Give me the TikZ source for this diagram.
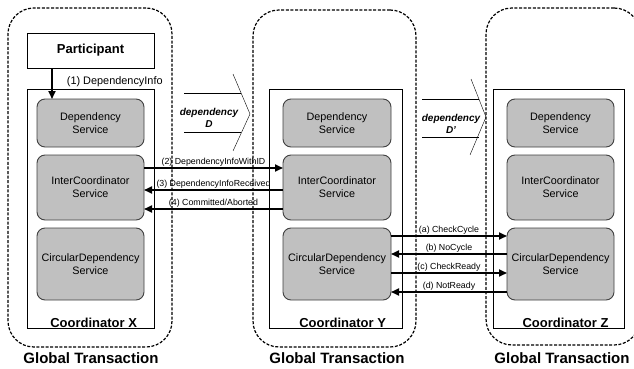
\documentclass[tikz,border=0pt]{standalone}
\usepackage{fontspec}
\setmainfont{Liberation Sans}
\usetikzlibrary{arrows.meta}
\definecolor{svcgray}{RGB}{192,192,192}
\begin{document}
\begin{tikzpicture}[x=1pt,y=-1pt,
  gtrans/.style={draw, line width=1.2pt, dash pattern=on 3pt off 1.6pt, rounded corners=26pt, inner sep=0pt, outer sep=0pt},
  coord/.style={draw, line width=0.8pt, inner sep=0pt, outer sep=0pt},
  svc/.style={draw=black!75, fill=svcgray, line width=0.9pt, rounded corners=8pt, inner sep=0pt, outer sep=0pt, align=center, font=\fontsize{10.8}{13}\selectfont},
  msg/.style={line width=1.8pt, -{Triangle[length=8pt,width=7pt]}},
  msglabel/.style={midway, above, inner sep=0.6pt, font=\fontsize{8.8}{10}\selectfont},
  gtlabel/.style={font=\fontsize{15}{17}\bfseries\selectfont},
  colabel/.style={anchor=east, font=\fontsize{13}{15}\bfseries\selectfont},
  deplabel/.style={align=center, font=\fontsize{10}{12}\bfseries\itshape\selectfont}]
\useasboundingbox (0,0) rectangle (634,369);

\node[gtrans, minimum width=164pt, minimum height=339pt] (gtX) at (90,177.5) {};
\node[gtrans, minimum width=163pt, minimum height=337pt] (gtY) at (334.5,178.5) {};
\node[gtrans, minimum width=154pt, minimum height=337pt] (gtZ) at (563,176.5) {};

\node[gtlabel] at (91,358) {Global Transaction};
\node[gtlabel] at (337,358) {Global Transaction};
\node[gtlabel] at (562,358) {Global Transaction};

\node[coord, minimum width=127pt, minimum height=35pt, font=\fontsize{13}{15}\bfseries\selectfont] (part) at (90.5,50.5) {Participant};

\node[coord, minimum width=127pt, minimum height=239pt] (coX) at (90.5,208.5) {};
\node[coord, minimum width=133pt, minimum height=239pt] (coY) at (335.5,208.5) {};
\node[coord, minimum width=131pt, minimum height=239pt] (coZ) at (558.5,208.5) {};

\node[colabel] at (140.5,323) {Coordinator X};
\node[colabel] at (389.5,323) {Coordinator Y};
\node[colabel] at (612,323) {Coordinator Z};

\node[svc, minimum width=107pt, minimum height=48pt] (dsX) at (90.5,123) {Dependency\\Service};
\node[svc, minimum width=107pt, minimum height=65pt] (icX) at (90.5,187.5) {InterCoordinator\\Service};
\node[svc, minimum width=107pt, minimum height=72pt] (cdX) at (90.5,264) {CircularDependency\\Service};

\node[svc, minimum width=108pt, minimum height=48pt] (dsY) at (337,123) {Dependency\\Service};
\node[svc, minimum width=108pt, minimum height=65pt] (icY) at (337,187.5) {InterCoordinator\\Service};
\node[svc, minimum width=108pt, minimum height=72pt] (cdY) at (337,264) {CircularDependency\\Service};

\node[svc, minimum width=107pt, minimum height=48pt] (dsZ) at (560.5,123) {Dependency\\Service};
\node[svc, minimum width=107pt, minimum height=65pt] (icZ) at (560.5,187.5) {InterCoordinator\\Service};
\node[svc, minimum width=107pt, minimum height=72pt] (cdZ) at (560.5,264) {CircularDependency\\Service};

\draw[msg] ([xshift=-38.5pt]part.south) -- ([xshift=-38.5pt]dsX.north)
  node[midway, right=14pt, yshift=2pt, inner sep=0pt, font=\fontsize{10.9}{12}\selectfont] {(1) DependencyInfo};

\draw (184,93) -- (241,93);
\draw (184,132) -- (241,132);
\draw (233,74) -- (250,114) -- (233,151);
\node[deplabel] at (209,118) {dependency\\D};

\draw (422,99) -- (479,99);
\draw (422,137) -- (479,137);
\draw (471,79) -- (486,117) -- (470,155);
\node[deplabel] at (451,124) {dependency\\D'};

\draw[msg] ([yshift=19.5pt]icX.east) -- ([yshift=19.5pt]icY.west) node[msglabel] {(2) DependencyInfoWithID};
\draw[msg] ([yshift=-2.5pt]icY.west) -- ([yshift=-2.5pt]icX.east) node[msglabel] {(3) DependencyInfoReceived};
\draw[msg] ([yshift=-21.5pt]icY.west) -- ([yshift=-21.5pt]icX.east) node[msglabel] {(4) Committed/Aborted};

\draw[msg] ([yshift=28pt]cdY.east) -- ([yshift=28pt]cdZ.west) node[msglabel] {(a) CheckCycle};
\draw[msg] ([yshift=10pt]cdZ.west) -- ([yshift=10pt]cdY.east) node[msglabel] {(b) NoCycle};
\draw[msg] ([yshift=-9pt]cdY.east) -- ([yshift=-9pt]cdZ.west) node[msglabel] {(c) CheckReady};
\draw[msg] ([yshift=-28pt]cdZ.west) -- ([yshift=-28pt]cdY.east) node[msglabel] {(d) NotReady};

\end{tikzpicture}
\end{document}
